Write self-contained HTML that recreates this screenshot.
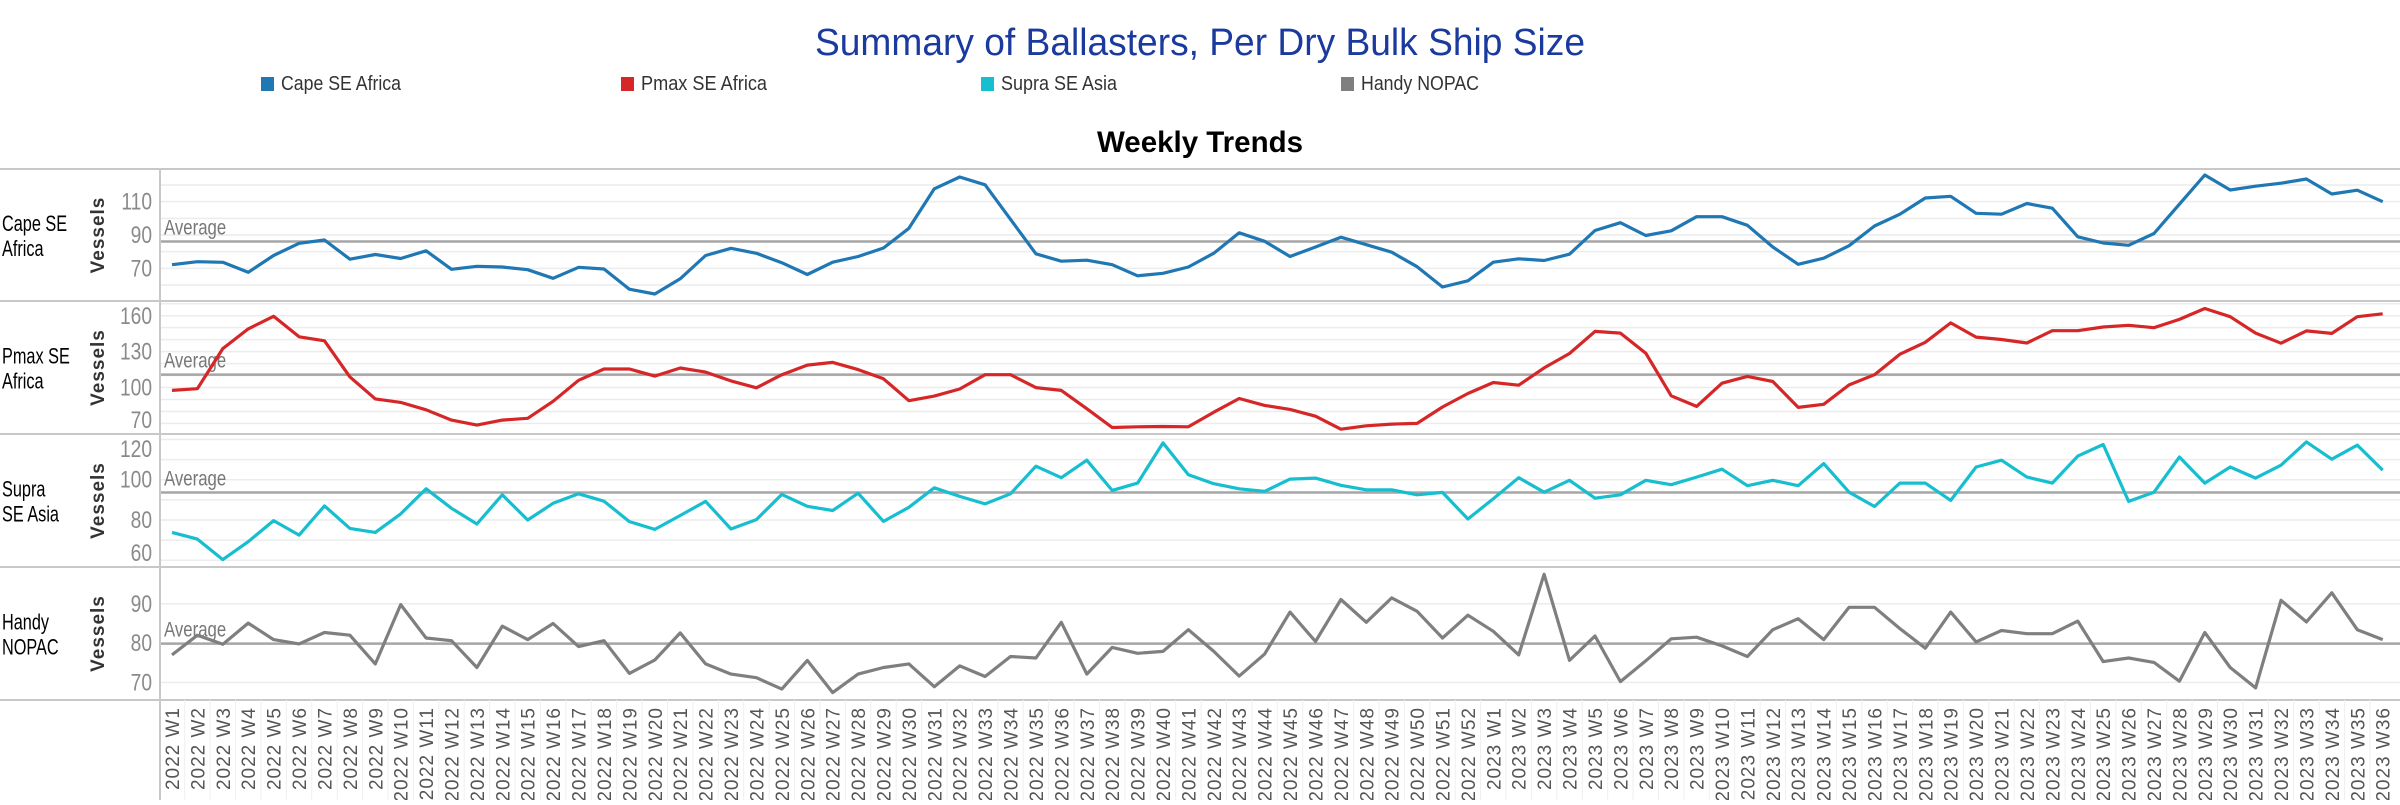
<!DOCTYPE html>
<html><head><meta charset="utf-8"><style>
html,body{margin:0;padding:0;background:#fff;}
svg text{font-family:"Liberation Sans",sans-serif;}
</style></head><body>
<svg id="chart" width="2400" height="800" viewBox="0 0 2400 800" xmlns="http://www.w3.org/2000/svg">
<text x="1200" y="55" text-anchor="middle" font-size="38" fill="#1a3a9e" textLength="770" lengthAdjust="spacingAndGlyphs">Summary of Ballasters, Per Dry Bulk Ship Size</text>
<g>
<g><rect x="261" y="77" width="13" height="14" fill="#1f77b4"/><text x="281" y="90" font-size="20" fill="#333" textLength="120" lengthAdjust="spacingAndGlyphs">Cape SE Africa</text></g>
<g><rect x="621" y="77" width="13" height="14" fill="#d62728"/><text x="641" y="90" font-size="20" fill="#333" textLength="126" lengthAdjust="spacingAndGlyphs">Pmax SE Africa</text></g>
<g><rect x="981" y="77" width="13" height="14" fill="#17becf"/><text x="1001" y="90" font-size="20" fill="#333" textLength="116" lengthAdjust="spacingAndGlyphs">Supra SE Asia</text></g>
<g><rect x="1341" y="77" width="13" height="14" fill="#7f7f7f"/><text x="1361" y="90" font-size="20" fill="#333" textLength="118" lengthAdjust="spacingAndGlyphs">Handy NOPAC</text></g>
</g>
<text x="1200" y="152" text-anchor="middle" font-size="30" font-weight="bold" fill="#000" textLength="206" lengthAdjust="spacingAndGlyphs">Weekly Trends</text>
<g id="plots"></g>
</svg>
<script>
const weeks2022 = 52;
const weeks2023 = 36;
const capeValues = [72.2,74,73.6,67.6,77.7,85,87,75.5,78.3,75.9,80.5,69.4,71.2,70.8,69.2,64,70.6,69.6,57.5,54.6,63.7,77.7,82,79,73.4,66.3,73.7,77.1,82.2,94,117.7,124.8,120.1,99.4,78.7,74.3,74.9,72.2,65.5,67,70.8,79.1,91.3,86.2,77.1,82.8,88.7,84.2,79.7,71,58.8,62.5,73.7,75.7,74.7,78.5,92.7,97.4,89.7,92.5,101,101,95.8,82.8,72.4,76.1,83.6,95.4,102.5,112.2,113.2,103,102.5,108.9,106.1,88.9,85.2,83.8,90.9,108.5,126,117,119.3,121.1,123.6,114.6,116.9,110];
const pmaxValues = [97.6,99,132.5,149,159.5,142.4,139,108.9,90.5,87.6,81.4,72.8,68.6,72.8,74.3,88.5,106,115.5,115.5,109.5,116.3,112.9,105.5,99.8,110.7,118.7,121,115,107.3,89,92.8,98.8,110.7,110.7,99.9,97.6,82.3,66.6,67.2,67.4,67.2,79.4,90.8,85.1,81.7,76,65.2,68,69.4,70,83.7,95,104.2,101.9,116.4,128.4,146.9,145.5,128.7,93.1,84.2,103.6,109.3,105,83.4,86,102.2,110.7,127.8,137.8,154,142.1,140.1,137.2,147.5,147.5,150.6,152,150,156.9,166,159.2,145.5,137,147.3,145.2,159.2,161.6];
const supraValues = [73.8,70.5,60.3,69.2,79.7,72.5,87,75.8,73.8,83,95.5,85.8,78,92.5,80,88.3,93,89.3,79.2,75.3,82.2,89.2,75.5,80.2,92.7,86.8,84.7,93.3,79.3,86.3,96,91.7,88,93,106.7,101,109.7,94.7,98.3,118.3,102.5,98,95.5,94.2,100.3,100.8,97.2,95,95,92.5,93.7,80.5,90.5,101,93.8,99.7,90.8,92.5,99.7,97.5,101.3,105.2,97,99.7,97,108,93.8,86.7,98.3,98.3,89.7,106.3,109.7,101.3,98.3,111.7,117.5,89.2,93.8,111.3,98.3,106.3,100.8,107.2,118.8,110.2,117.2,104.7];
const handyValues = [77,82,79.7,85.1,80.9,79.8,82.7,82,74.7,89.8,81.3,80.6,73.8,84.3,80.9,85,79.1,80.6,72.3,75.7,82.6,74.7,72.1,71.2,68.3,75.6,67.4,72.1,73.8,74.7,68.9,74.2,71.5,76.6,76.2,85.3,72.1,78.9,77.4,77.9,83.4,77.9,71.6,77.2,87.9,80.4,91.1,85.3,91.5,88.1,81.3,87.1,83,77,97.5,75.6,81.8,70.2,75.5,81.1,81.5,79.3,76.6,83.4,86.2,80.9,89.1,89.1,83.7,78.7,87.9,80.3,83.2,82.4,82.4,85.6,75.3,76.2,75.1,70.3,82.7,73.8,68.6,90.9,85.4,92.8,83.4,80.9];
const capeTicks = [70,90,110];
const pmaxTicks = [70,100,130,160];
const supraTicks = [60,80,100,120];
const handyTicks = [70,80,90];

const NS = "http://www.w3.org/2000/svg";
const plots = document.getElementById('plots');
const categories = [];
for (let w = 1; w <= weeks2022; w++) categories.push('2022 W' + w);
for (let w = 1; w <= weeks2023; w++) categories.push('2023 W' + w);

const X0 = 172, DX = 25.41;
function xScale(i){ return X0 + i*DX; }
function mk(tag, attrs, parent){
  const e = document.createElementNS(NS, tag);
  for (const k in attrs) e.setAttribute(k, attrs[k]);
  (parent||plots).appendChild(e);
  return e;
}

const panels = [
  {key:'cape', label:['Cape SE','Africa'], top:169, bottom:301, refV:90, refY:235, ppu:1.667, gmin:60, gmax:120, ticks:capeTicks, vals:capeValues, color:'#1f77b4'},
  {key:'pmax', label:['Pmax SE','Africa'], top:301, bottom:434, refV:160, refY:315.7, ppu:1.197, gmin:70, gmax:170, ticks:pmaxTicks, vals:pmaxValues, color:'#d62728'},
  {key:'supra', label:['Supra','SE Asia'], top:434, bottom:567, refV:100, refY:479.7, ppu:2.013, gmin:50, gmax:120, ticks:supraTicks, vals:supraValues, color:'#17becf'},
  {key:'handy', label:['Handy','NOPAC'], top:567, bottom:700, refV:80, refY:643.1, ppu:3.93, gmin:60, gmax:100, ticks:handyTicks, vals:handyValues, color:'#7f7f7f'}
];

panels.forEach(p => {
  const yScale = v => p.refY - (v - p.refV)*p.ppu;
  const g = mk('g', {});
  
  
  for (let v = p.gmin; v <= p.gmax; v += 10) {
    const y = yScale(v);
    if (y <= p.top + 2 || y >= p.bottom - 2) continue;
    const gl = mk('line', {x1:161, x2:2400, y1:y, y2:y, stroke:'#ececec', 'stroke-width':1.5}, g);
    
    
  }
  p.ticks.forEach(t => {
    let y = yScale(t) + 8;
    y = Math.max(p.top + 23, Math.min(p.bottom - 6, y));
    const tl = mk('text', {x:0, y:0, 'text-anchor':'end', 'font-size':24, fill:'#8a8a8a', transform:'translate(152 '+y+') scale(0.8 1)'}, g);
    tl.textContent = t;
    
    
  });
  const ly = (p.top+p.bottom)/2 - 4;
  const rl = mk('text', {x:0, y:0, 'font-size':22, fill:'#000', transform:'translate(2 '+ly+') scale(0.74 1)'}, g);
  
  
  const t1 = mk('tspan', {x:0, dy:0}, rl); t1.textContent = p.label[0];
  const t2 = mk('tspan', {x:0, dy:25}, rl); t2.textContent = p.label[1];
  const cy = (p.top+p.bottom)/2;
  const at = mk('text', {x:104, y:cy, 'text-anchor':'middle', 'font-size':19, 'font-weight':'bold', fill:'#333', transform:'rotate(-90 104 '+cy+')', style:'letter-spacing:1px'}, g);
  at.textContent = 'Vessels';
  
  
  const avg = p.vals.reduce((a,b)=>a+b,0)/p.vals.length;
  const ay = yScale(avg);
  const al = mk('line', {x1:161, x2:2400, y1:ay, y2:ay, stroke:'#a6a6a6', 'stroke-width':2.5}, g);
  
  
  const atx = mk('text', {x:0, y:0, 'font-size':21, fill:'#777', transform:'translate(164 '+(ay-7)+') scale(0.8 1)'}, g);
  atx.textContent = 'Average';
  
  
  const pts = p.vals.map((v,i) => xScale(i).toFixed(1) + ',' + yScale(v).toFixed(1)).join(' ');
  const pl = mk('polyline', {points:pts, fill:'none', stroke:p.color, 'stroke-width':3.2, 'stroke-linejoin':'round'}, g);
  
  
});

[169,301,434,567,700].forEach(y => {
  const s = mk('line', {x1:0, x2:2400, y1:y, y2:y, stroke:'#c8c8c8', 'stroke-width':2});
  
  
});
const ax = mk('line', {x1:160, x2:160, y1:169, y2:800, stroke:'#c8c8c8', 'stroke-width':2});



categories.forEach((c, i) => {
  const x = xScale(i);
  if (i > 0) {
    const sl = mk('line', {x1:x - DX/2, x2:x - DX/2, y1:700, y2:800, stroke:'#efefef', 'stroke-width':1});
    
    
  }
  const tx = x + 7;
  const t = mk('text', {x:tx, y:707, 'text-anchor':'end', 'font-size':19, fill:'#555', transform:'rotate(-90 '+tx+' 707)', style:'letter-spacing:1px'});
  t.textContent = c;
  
  
});
</script>
</body></html>
